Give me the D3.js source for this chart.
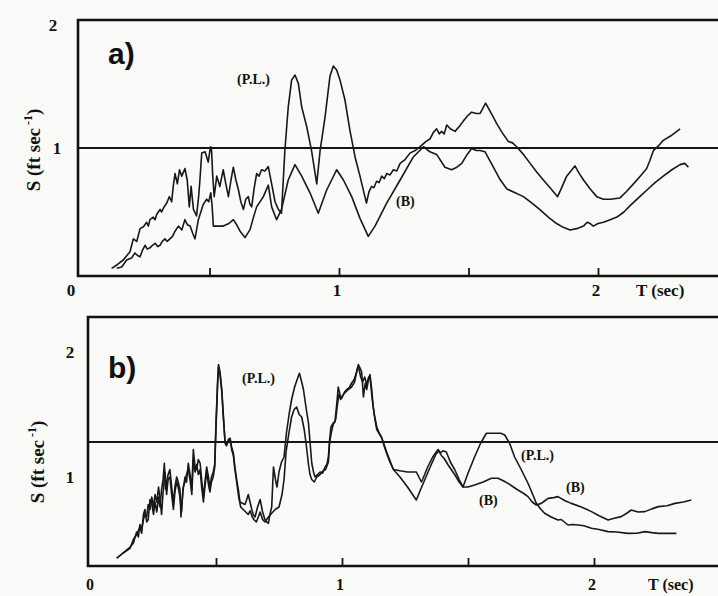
<!DOCTYPE html>
<html><head><meta charset="utf-8">
<script src="https://cdn.jsdelivr.net/npm/d3@7/dist/d3.min.js"></script>
<style>body{margin:0;background:#fafaf8;}svg{display:block}</style>
</head><body><svg id="c" width="718" height="596"></svg>
<script>
// Panel a) spectra: [T (sec), S (ft/sec)]
const panelA_PL = [[0.122,0.06],[0.145,0.09],[0.167,0.125],[0.193,0.19],[0.206,0.29],[0.219,0.27],[0.232,0.37],[0.245,0.385],[0.257,0.42],[0.264,0.39],[0.270,0.44],[0.283,0.46],[0.290,0.44],[0.296,0.48],[0.309,0.52],[0.315,0.50],[0.322,0.53],[0.335,0.57],[0.345,0.62],[0.354,0.58],[0.360,0.70],[0.367,0.80],[0.376,0.72],[0.384,0.83],[0.393,0.78],[0.405,0.84],[0.414,0.75],[0.422,0.54],[0.429,0.70],[0.438,0.52],[0.450,0.47],[0.458,0.62],[0.463,0.75],[0.470,0.96],[0.483,0.97],[0.495,0.89],[0.504,1.01],[0.508,0.98],[0.512,0.80],[0.518,0.62],[0.528,0.78],[0.540,0.70],[0.553,0.83],[0.563,0.72],[0.573,0.62],[0.583,0.75],[0.592,0.85],[0.602,0.75],[0.612,0.67],[0.621,0.58],[0.631,0.52],[0.640,0.60],[0.650,0.62],[0.656,0.56],[0.663,0.54],[0.672,0.68],[0.682,0.80],[0.691,0.78],[0.701,0.83],[0.714,0.82],[0.727,0.855],[0.740,0.72],[0.753,0.58],[0.766,0.52],[0.778,0.49],[0.791,0.98],[0.804,1.32],[0.817,1.53],[0.830,1.57],[0.843,1.505],[0.856,1.32],[0.875,1.17],[0.894,0.98],[0.914,0.72],[0.927,0.98],[0.946,1.24],[0.965,1.56],[0.978,1.64],[0.991,1.61],[1.004,1.53],[1.023,1.375],[1.042,1.14],[1.062,0.93],[1.081,0.78],[1.100,0.62],[1.106,0.57],[1.116,0.66],[1.126,0.70],[1.135,0.69],[1.145,0.74],[1.155,0.73],[1.165,0.78],[1.175,0.76],[1.184,0.80],[1.197,0.79],[1.210,0.83],[1.223,0.82],[1.236,0.88],[1.255,0.91],[1.274,0.96],[1.294,0.98],[1.313,1.01],[1.335,1.05],[1.351,1.07],[1.364,1.12],[1.377,1.15],[1.387,1.11],[1.396,1.13],[1.406,1.11],[1.416,1.18],[1.430,1.15],[1.448,1.13],[1.465,1.17],[1.480,1.21],[1.496,1.25],[1.512,1.28],[1.530,1.27],[1.545,1.27],[1.566,1.35],[1.588,1.27],[1.609,1.19],[1.630,1.12],[1.654,1.05],[1.670,1.04],[1.686,1.01],[1.712,0.95],[1.738,0.88],[1.764,0.81],[1.789,0.75],[1.815,0.69],[1.844,0.62],[1.862,0.70],[1.879,0.78],[1.911,0.86],[1.928,0.80],[1.944,0.75],[1.970,0.68],[1.995,0.62],[2.021,0.60],[2.047,0.60],[2.085,0.61],[2.110,0.66],[2.137,0.72],[2.163,0.78],[2.188,0.84],[2.200,0.90],[2.214,0.98],[2.235,1.02],[2.252,1.06],[2.285,1.10],[2.317,1.15]];
const panelA_B = [[0.142,0.06],[0.161,0.07],[0.180,0.125],[0.199,0.14],[0.212,0.18],[0.222,0.16],[0.232,0.15],[0.241,0.20],[0.251,0.24],[0.260,0.21],[0.270,0.22],[0.280,0.24],[0.290,0.255],[0.300,0.23],[0.309,0.24],[0.318,0.27],[0.328,0.29],[0.337,0.27],[0.347,0.29],[0.357,0.31],[0.367,0.35],[0.380,0.39],[0.393,0.36],[0.405,0.44],[0.415,0.40],[0.425,0.39],[0.436,0.33],[0.444,0.29],[0.457,0.44],[0.476,0.56],[0.489,0.60],[0.497,0.58],[0.505,0.65],[0.510,0.55],[0.515,0.39],[0.535,0.39],[0.553,0.39],[0.575,0.41],[0.592,0.44],[0.605,0.40],[0.618,0.35],[0.637,0.30],[0.656,0.36],[0.670,0.46],[0.682,0.54],[0.708,0.62],[0.727,0.71],[0.740,0.54],[0.759,0.44],[0.778,0.52],[0.804,0.75],[0.830,0.87],[0.856,0.78],[0.888,0.65],[0.920,0.49],[0.952,0.67],[0.991,0.83],[1.017,0.75],[1.049,0.62],[1.081,0.45],[1.113,0.31],[1.139,0.39],[1.184,0.57],[1.236,0.75],[1.287,0.93],[1.326,1.01],[1.351,0.97],[1.377,0.95],[1.409,0.85],[1.435,0.83],[1.455,0.85],[1.474,0.88],[1.495,0.95],[1.512,0.996],[1.530,0.98],[1.545,0.98],[1.564,0.97],[1.596,0.85],[1.620,0.76],[1.648,0.68],[1.680,0.65],[1.712,0.62],[1.745,0.57],[1.777,0.516],[1.808,0.46],[1.840,0.41],[1.866,0.38],[1.892,0.36],[1.918,0.37],[1.944,0.39],[1.958,0.42],[1.970,0.41],[1.982,0.39],[2.000,0.41],[2.021,0.42],[2.047,0.44],[2.073,0.46],[2.100,0.50],[2.124,0.55],[2.156,0.61],[2.188,0.67],[2.220,0.73],[2.252,0.78],[2.285,0.83],[2.317,0.87],[2.335,0.88],[2.349,0.85]];

// Panel b) spectra
const panelB_PL = [[0.106,0.35],[0.130,0.39],[0.159,0.43],[0.172,0.50],[0.185,0.54],[0.198,0.60],[0.205,0.55],[0.212,0.70],[0.218,0.74],[0.225,0.64],[0.231,0.66],[0.238,0.82],[0.245,0.79],[0.252,0.70],[0.258,0.80],[0.265,0.72],[0.272,0.84],[0.278,0.76],[0.284,0.90],[0.290,0.98],[0.295,1.11],[0.300,0.90],[0.304,0.95],[0.310,1.02],[0.317,1.06],[0.324,0.92],[0.331,0.79],[0.337,0.92],[0.344,1.00],[0.350,0.96],[0.357,0.90],[0.361,0.68],[0.368,0.88],[0.377,1.00],[0.383,0.96],[0.390,1.11],[0.397,1.02],[0.404,0.90],[0.410,1.22],[0.417,1.08],[0.423,1.06],[0.430,1.14],[0.437,1.11],[0.443,0.98],[0.450,0.84],[0.456,0.96],[0.463,1.08],[0.470,1.00],[0.476,0.92],[0.482,1.00],[0.489,1.04],[0.495,1.10],[0.500,1.43],[0.506,1.75],[0.510,1.90],[0.516,1.84],[0.523,1.70],[0.529,1.50],[0.536,1.27],[0.542,1.25],[0.549,1.30],[0.556,1.31],[0.562,1.24],[0.569,1.19],[0.575,1.08],[0.582,0.98],[0.590,0.88],[0.595,0.80],[0.605,0.79],[0.615,0.78],[0.622,0.82],[0.628,0.86],[0.635,0.80],[0.642,0.74],[0.648,0.70],[0.655,0.68],[0.665,0.76],[0.675,0.82],[0.685,0.72],[0.694,0.66],[0.701,0.64],[0.708,0.63],[0.714,0.70],[0.721,0.76],[0.728,1.08],[0.736,0.98],[0.742,0.92],[0.750,1.04],[0.760,1.12],[0.770,1.16],[0.780,1.36],[0.790,1.50],[0.800,1.62],[0.812,1.72],[0.822,1.78],[0.831,1.83],[0.840,1.76],[0.847,1.70],[0.857,1.56],[0.867,1.43],[0.874,1.26],[0.880,1.11],[0.887,1.04],[0.893,1.00],[0.903,1.02],[0.913,1.04],[0.923,1.03],[0.933,1.08],[0.940,1.10],[0.946,1.16],[0.951,1.30],[0.956,1.40],[0.965,1.43],[0.972,1.44],[0.980,1.60],[0.985,1.72],[0.992,1.66],[0.999,1.63],[1.010,1.68],[1.019,1.70],[1.030,1.72],[1.038,1.75],[1.048,1.78],[1.058,1.84],[1.065,1.90],[1.072,1.87],[1.078,1.84],[1.085,1.64],[1.092,1.75],[1.098,1.70],[1.105,1.78],[1.111,1.82],[1.118,1.70],[1.124,1.56],[1.131,1.46],[1.138,1.38],[1.147,1.35],[1.157,1.32],[1.167,1.25],[1.177,1.19],[1.190,1.12],[1.204,1.06],[1.230,1.05],[1.260,1.04],[1.295,1.04],[1.315,0.96],[1.322,0.99],[1.340,1.08],[1.360,1.16],[1.381,1.22],[1.390,1.19],[1.400,1.21],[1.414,1.20],[1.430,1.12],[1.447,1.06],[1.465,0.98],[1.480,0.92],[1.500,1.03],[1.526,1.16],[1.550,1.27],[1.573,1.35],[1.600,1.35],[1.630,1.35],[1.646,1.336],[1.665,1.27],[1.685,1.16],[1.712,1.056],[1.738,0.95],[1.755,0.87],[1.771,0.79],[1.790,0.74],[1.804,0.71],[1.830,0.68],[1.857,0.656],[1.870,0.66],[1.897,0.616],[1.915,0.62],[1.937,0.616],[1.960,0.61],[1.990,0.59],[2.020,0.58],[2.056,0.563],[2.090,0.56],[2.135,0.549],[2.170,0.55],[2.202,0.563],[2.230,0.555],[2.255,0.549],[2.290,0.55],[2.327,0.549]];
const panelB_B = [[0.106,0.35],[0.130,0.39],[0.159,0.44],[0.172,0.47],[0.185,0.56],[0.192,0.52],[0.198,0.62],[0.205,0.58],[0.212,0.66],[0.218,0.70],[0.225,0.68],[0.231,0.78],[0.238,0.74],[0.245,0.84],[0.252,0.76],[0.258,0.86],[0.265,0.80],[0.272,0.92],[0.278,0.82],[0.284,0.70],[0.290,0.88],[0.298,1.04],[0.304,0.86],[0.310,0.98],[0.317,1.00],[0.324,0.86],[0.331,0.74],[0.337,0.88],[0.344,0.96],[0.350,0.92],[0.357,0.84],[0.363,0.72],[0.370,0.92],[0.377,0.96],[0.383,1.02],[0.390,1.06],[0.397,0.98],[0.404,0.86],[0.410,1.14],[0.417,1.04],[0.423,1.10],[0.430,1.02],[0.437,1.06],[0.443,0.92],[0.450,0.80],[0.456,0.92],[0.463,1.04],[0.470,0.94],[0.476,0.88],[0.482,0.96],[0.489,1.00],[0.495,1.08],[0.500,1.40],[0.506,1.72],[0.510,1.88],[0.516,1.82],[0.523,1.68],[0.529,1.48],[0.536,1.28],[0.542,1.26],[0.549,1.28],[0.556,1.30],[0.562,1.22],[0.569,1.17],[0.575,1.06],[0.582,0.96],[0.590,0.84],[0.598,0.76],[0.608,0.74],[0.618,0.72],[0.628,0.70],[0.635,0.73],[0.642,0.69],[0.650,0.66],[0.660,0.64],[0.668,0.68],[0.675,0.72],[0.685,0.66],[0.694,0.64],[0.708,0.68],[0.721,0.71],[0.735,0.74],[0.750,0.76],[0.762,0.86],[0.770,0.98],[0.778,1.20],[0.790,1.36],[0.800,1.48],[0.810,1.54],[0.820,1.56],[0.830,1.50],[0.840,1.48],[0.850,1.38],[0.858,1.26],[0.867,1.10],[0.873,1.02],[0.880,0.98],[0.890,0.96],[0.900,1.00],[0.913,1.02],[0.925,1.05],[0.935,1.06],[0.946,1.12],[0.951,1.28],[0.958,1.36],[0.965,1.42],[0.975,1.46],[0.982,1.58],[0.988,1.66],[0.995,1.62],[1.005,1.66],[1.015,1.68],[1.025,1.70],[1.038,1.72],[1.050,1.76],[1.060,1.86],[1.066,1.88],[1.074,1.80],[1.082,1.76],[1.090,1.80],[1.098,1.74],[1.106,1.80],[1.112,1.78],[1.120,1.62],[1.128,1.50],[1.138,1.40],[1.150,1.34],[1.160,1.30],[1.177,1.20],[1.204,1.06],[1.230,1.00],[1.260,0.92],[1.280,0.86],[1.295,0.816],[1.312,0.90],[1.328,0.976],[1.350,1.08],[1.372,1.18],[1.385,1.21],[1.395,1.17],[1.405,1.15],[1.420,1.10],[1.447,1.02],[1.465,0.96],[1.480,0.92],[1.500,0.92],[1.526,0.936],[1.560,0.96],[1.593,0.99],[1.619,0.99],[1.640,0.97],[1.659,0.949],[1.680,0.92],[1.698,0.896],[1.720,0.87],[1.738,0.843],[1.755,0.80],[1.771,0.776],[1.791,0.789],[1.805,0.81],[1.818,0.829],[1.840,0.835],[1.857,0.843],[1.885,0.81],[1.910,0.789],[1.950,0.76],[1.990,0.723],[2.020,0.69],[2.056,0.656],[2.080,0.67],[2.108,0.683],[2.130,0.71],[2.148,0.736],[2.175,0.72],[2.202,0.723],[2.230,0.745],[2.255,0.763],[2.290,0.77],[2.321,0.789],[2.355,0.80],[2.386,0.816]];

const xTickValues = [0.5, 1, 1.5, 2];
const xTickLabels = [[0, "0"], [1, "1"], [2, "2"]];
const yTickLabels = [[1, "1"], [2, "2"]];

const svg = d3.select('#c');
svg.append('rect').attr('width', 718).attr('height', 596).attr('fill', '#fafaf8');
const serif = '"Liberation Serif", "Times New Roman", serif';

function drawPanel(cfg) {
  const x = d3.scaleLinear().domain([0, 2]).range(cfg.xRange);
  const y = d3.scaleLinear().domain([0, 2]).range(cfg.yRange);
  const g = svg.append('g');

  // reference line
  g.append('line').attr('x1', cfg.left).attr('x2', 718)
    .attr('y1', y(cfg.ref)).attr('y2', y(cfg.ref))
    .attr('stroke', '#151515').attr('stroke-width', 1.8);

  // curves
  const line = d3.line().x(d => x(d[0])).y(d => y(d[1]));
  cfg.series.forEach(s => {
    g.append('path').datum(s).attr('d', line)
      .attr('fill', 'none').attr('stroke', '#181818')
      .attr('stroke-width', 1.6).attr('stroke-linejoin', 'round');
  });

  // bottom axis ticks (inward)
  const ax = d3.axisBottom(x).tickValues(xTickValues).tickSize(-8).tickFormat('');
  const ag = g.append('g').attr('transform', `translate(0,${cfg.bottom})`).call(ax);
  ag.select('.domain').remove();
  ag.selectAll('line').attr('stroke', '#151515').attr('stroke-width', 1.8);

  // frame (left, top, bottom)
  g.append('path')
    .attr('d', `M718,${cfg.top}H${cfg.left}V${cfg.bottom}H718`)
    .attr('fill', 'none').attr('stroke', '#111').attr('stroke-width', 2.6);

  // x tick labels
  xTickLabels.forEach(([v, t]) => {
    g.append('text').attr('x', x(v) + (v === 0 ? cfg.zeroDx : -2)).attr('y', cfg.xLabelY)
      .attr('text-anchor', 'middle').attr('font-family', serif)
      .attr('font-weight', 'bold').attr('font-size', cfg.xFont).attr('fill', '#111').text(t);
  });
  g.append('text').attr('x', cfg.tX).attr('y', cfg.xLabelY)
    .attr('font-family', serif).attr('font-weight', 'bold').attr('font-size', cfg.xFont)
    .attr('fill', '#111').text('T (sec)');

  // y tick labels
  yTickLabels.forEach(([v, t]) => {
    g.append('text').attr('x', cfg.yLabelX[v]).attr('y', y(v) + cfg.yLabelDy[v])
      .attr('text-anchor', 'middle').attr('font-family', serif)
      .attr('font-weight', 'bold').attr('font-size', 17).attr('fill', '#111').text(t);
  });

  // y title
  const yt = g.append('text')
    .attr('transform', `translate(${cfg.titleX},${cfg.titleY}) rotate(-90)`)
    .attr('text-anchor', 'middle').attr('font-family', serif)
    .attr('font-weight', 'bold').attr('font-size', 19).attr('fill', '#111');
  yt.append('tspan').text('S (ft sec');
  yt.append('tspan').attr('font-size', 12).attr('dy', -8).text(' -1');
  yt.append('tspan').attr('dy', 8).text(')');

  // panel letter
  g.append('text').attr('x', cfg.letterX).attr('y', cfg.letterY)
    .attr('font-family', '"Liberation Sans", Arial, sans-serif').attr('font-weight', 'bold')
    .attr('font-size', 30).attr('fill', '#111').text(cfg.letter);

  // curve annotations
  cfg.notes.forEach(n => {
    g.append('text').attr('x', n[0]).attr('y', n[1]).attr('font-family', serif)
      .attr('font-weight', 'bold').attr('font-size', 14).attr('fill', '#111').text(n[2]);
  });
}

drawPanel({
  xRange: [80, 598], yRange: [276, 20], left: 78, top: 20, bottom: 276, ref: 1,
  series: [panelA_PL, panelA_B],
  xLabelY: 296, xFont: 17, zeroDx: -9, tX: 636,
  yLabelX: {1: 57, 2: 53}, yLabelDy: {1: 6, 2: 11},
  titleX: 40, titleY: 150,
  letter: 'a)', letterX: 108, letterY: 64,
  notes: [[237, 84, '(P.L.)'], [396, 206, '(B)']]
});

drawPanel({
  xRange: [90, 594], yRange: [602, 352], left: 88, top: 317, bottom: 566, ref: 1.28,
  series: [panelB_PL, panelB_B],
  xLabelY: 590, xFont: 16, zeroDx: 0, tX: 648,
  yLabelX: {1: 70, 2: 70}, yLabelDy: {1: 6, 2: 6},
  titleX: 44, titleY: 462,
  letter: 'b)', letterX: 108, letterY: 378,
  notes: [[242, 383, '(P.L.)'], [521, 460, '(P.L.)'], [479, 505, '(B)'], [566, 492, '(B)']]
});
</script>
</body></html>
